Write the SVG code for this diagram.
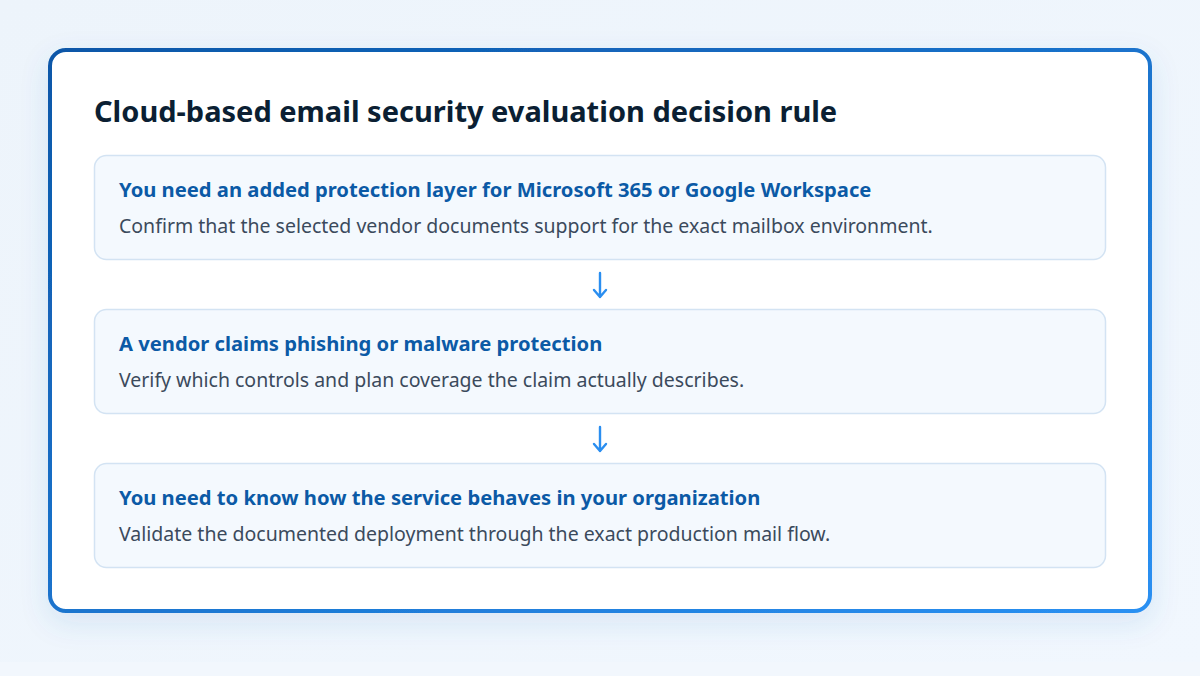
<svg xmlns="http://www.w3.org/2000/svg" width="1200" height="676" viewBox="0 0 1200 676">
<defs>
<linearGradient id="bg" x1="0" y1="0" x2="1" y2="1">
<stop offset="0" stop-color="#edf4fb"/>
<stop offset="1" stop-color="#f1f7fe"/>
</linearGradient>
<linearGradient id="border" x1="0" y1="0" x2="1" y2="1">
<stop offset="0" stop-color="#0b57a8"/>
<stop offset="1" stop-color="#2a90f2"/>
</linearGradient>
<filter id="shadow" x="-10%" y="-10%" width="120%" height="125%">
<feDropShadow dx="0" dy="10" stdDeviation="14" flood-color="#2a6fb8" flood-opacity="0.12"/>
</filter>
</defs>
<style>
.title{font-family:"Noto Sans","Open Sans",sans-serif;font-weight:700;font-size:29px;fill:#0b1f33}
.box{fill:#f4f9fe;stroke:#d3e3f3;stroke-width:1.5}
.h{font-family:"Noto Sans","Open Sans",sans-serif;font-weight:700;font-size:20.2px;fill:#0b5aa6}
.b{font-family:"Noto Sans","Open Sans",sans-serif;font-size:19.5px;fill:#3b4a5c}
.conn{stroke:#2a8ef0;stroke-width:2.4;fill:none;stroke-linecap:round;stroke-linejoin:round}
</style>
<rect width="1200" height="676" fill="url(#bg)"/>
<rect x="0" y="662" width="1200" height="14" fill="#f2f7fd"/>
<g id="card">
<rect x="50" y="50" width="1100" height="561" rx="16" fill="#ffffff" stroke="url(#border)" stroke-width="4" filter="url(#shadow)"/>
<text class="title" x="94" y="122">Cloud-based email security evaluation decision rule</text>
</g>
<g id="node1">
<rect class="box" x="94.5" y="155.5" width="1011" height="104" rx="12"/>
<text class="h" x="119" y="197">You need an added protection layer for Microsoft 365 or Google Workspace</text>
<text class="b" x="119" y="233">Confirm that the selected vendor documents support for the exact mailbox environment.</text>
</g>
<g id="node2">
<rect class="box" x="94.5" y="309.5" width="1011" height="104" rx="12"/>
<text class="h" x="119" y="351">A vendor claims phishing or malware protection</text>
<text class="b" x="119" y="387">Verify which controls and plan coverage the claim actually describes.</text>
</g>
<g id="node3">
<rect class="box" x="94.5" y="463.5" width="1011" height="104" rx="12"/>
<text class="h" x="119" y="505">You need to know how the service behaves in your organization</text>
<text class="b" x="119" y="541">Validate the documented deployment through the exact production mail flow.</text>
</g>
<g id="connectors">
<path class="conn" d="M600,273 L600,297 M594,290 L600,297 L606,290"/>
<path class="conn" d="M600,427 L600,451 M594,444 L600,451 L606,444"/>
</g>
</svg>
